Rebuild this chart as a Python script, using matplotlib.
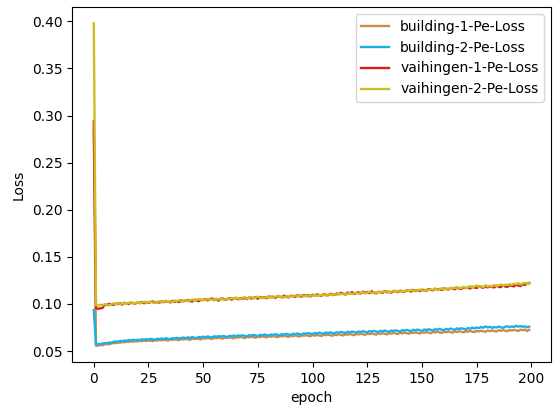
import matplotlib
matplotlib.use("Agg")
import matplotlib.pyplot as plt
import numpy as np

labels = ["building-1-Pe-Loss", "building-2-Pe-Loss", "vaihingen-1-Pe-Loss", "vaihingen-2-Pe-Loss"]
colors = ["#CD8A4C", "#1CB0E4", "#D81E1E", "#CCBE22"]

building_1 = [
    0.2850,
    0.0555, 0.0559, 0.0564, 0.0561, 0.0570, 0.0574, 0.0571, 0.0580, 0.0586, 0.0583,
    0.0591, 0.0588, 0.0596, 0.0593, 0.0600, 0.0596, 0.0603, 0.0599, 0.0606, 0.0601,
    0.0609, 0.0604, 0.0611, 0.0606, 0.0614, 0.0609, 0.0605, 0.0616, 0.0611, 0.0619,
    0.0613, 0.0621, 0.0616, 0.0611, 0.0624, 0.0618, 0.0626, 0.0620, 0.0615, 0.0628,
    0.0622, 0.0630, 0.0624, 0.0619, 0.0632, 0.0627, 0.0634, 0.0628, 0.0623, 0.0637,
    0.0631, 0.0639, 0.0633, 0.0628, 0.0641, 0.0635, 0.0643, 0.0637, 0.0632, 0.0644,
    0.0638, 0.0646, 0.0640, 0.0635, 0.0648, 0.0642, 0.0650, 0.0643, 0.0637, 0.0651,
    0.0645, 0.0653, 0.0647, 0.0641, 0.0655, 0.0648, 0.0657, 0.0650, 0.0644, 0.0658,
    0.0651, 0.0660, 0.0653, 0.0647, 0.0661, 0.0655, 0.0663, 0.0656, 0.0650, 0.0664,
    0.0657, 0.0666, 0.0659, 0.0653, 0.0667, 0.0661, 0.0669, 0.0662, 0.0656, 0.0670,
    0.0663, 0.0672, 0.0665, 0.0659, 0.0673, 0.0667, 0.0675, 0.0668, 0.0662, 0.0676,
    0.0669, 0.0678, 0.0671, 0.0665, 0.0679, 0.0673, 0.0681, 0.0674, 0.0668, 0.0682,
    0.0675, 0.0684, 0.0677, 0.0671, 0.0686, 0.0679, 0.0687, 0.0680, 0.0674, 0.0688,
    0.0681, 0.0690, 0.0683, 0.0677, 0.0691, 0.0685, 0.0693, 0.0686, 0.0680, 0.0694,
    0.0687, 0.0696, 0.0689, 0.0683, 0.0697, 0.0691, 0.0699, 0.0692, 0.0686, 0.0700,
    0.0693, 0.0702, 0.0695, 0.0689, 0.0703, 0.0697, 0.0705, 0.0698, 0.0692, 0.0706,
    0.0699, 0.0707, 0.0701, 0.0695, 0.0709, 0.0702, 0.0711, 0.0704, 0.0698, 0.0712,
    0.0705, 0.0713, 0.0707, 0.0701, 0.0715, 0.0708, 0.0716, 0.0710, 0.0704, 0.0718,
    0.0711, 0.0719, 0.0713, 0.0707, 0.0721, 0.0714, 0.0722, 0.0716, 0.0710, 0.0724,
    0.0717, 0.0725, 0.0719, 0.0713, 0.0727, 0.0720, 0.0728, 0.0712, 0.0726,
]

building_2 = [
    0.0935,
    0.0568, 0.0574, 0.0571, 0.0580, 0.0585, 0.0582, 0.0591, 0.0589, 0.0597, 0.0602,
    0.0598, 0.0607, 0.0603, 0.0612, 0.0608, 0.0616, 0.0611, 0.0620, 0.0614, 0.0621,
    0.0616, 0.0625, 0.0619, 0.0627, 0.0621, 0.0630, 0.0624, 0.0620, 0.0631, 0.0626,
    0.0634, 0.0627, 0.0637, 0.0629, 0.0625, 0.0638, 0.0632, 0.0641, 0.0634, 0.0639,
    0.0643, 0.0636, 0.0646, 0.0639, 0.0648, 0.0641, 0.0637, 0.0650, 0.0644, 0.0653,
    0.0646, 0.0655, 0.0649, 0.0644, 0.0657, 0.0651, 0.0659, 0.0652, 0.0660, 0.0654,
    0.0649, 0.0661, 0.0656, 0.0664, 0.0657, 0.0666, 0.0659, 0.0668, 0.0661, 0.0656,
    0.0669, 0.0663, 0.0672, 0.0664, 0.0659, 0.0673, 0.0667, 0.0675, 0.0669, 0.0663,
    0.0676, 0.0670, 0.0679, 0.0672, 0.0667, 0.0680, 0.0674, 0.0683, 0.0676, 0.0671,
    0.0684, 0.0678, 0.0687, 0.0680, 0.0675, 0.0689, 0.0682, 0.0691, 0.0684, 0.0679,
    0.0692, 0.0686, 0.0695, 0.0688, 0.0683, 0.0697, 0.0690, 0.0699, 0.0692, 0.0687,
    0.0700, 0.0694, 0.0703, 0.0696, 0.0691, 0.0705, 0.0698, 0.0707, 0.0700, 0.0695,
    0.0708, 0.0701, 0.0711, 0.0704, 0.0698, 0.0712, 0.0705, 0.0714, 0.0707, 0.0701,
    0.0715, 0.0708, 0.0718, 0.0710, 0.0704, 0.0719, 0.0712, 0.0721, 0.0713, 0.0708,
    0.0722, 0.0715, 0.0725, 0.0717, 0.0711, 0.0726, 0.0719, 0.0728, 0.0720, 0.0714,
    0.0729, 0.0722, 0.0732, 0.0724, 0.0718, 0.0733, 0.0726, 0.0736, 0.0727, 0.0721,
    0.0736, 0.0729, 0.0739, 0.0731, 0.0725, 0.0741, 0.0733, 0.0743, 0.0735, 0.0729,
    0.0744, 0.0737, 0.0748, 0.0740, 0.0751, 0.0743, 0.0756, 0.0747, 0.0762, 0.0750,
    0.0758, 0.0746, 0.0755, 0.0749, 0.0760, 0.0752, 0.0746, 0.0758, 0.0763, 0.0754,
    0.0761, 0.0756, 0.0767, 0.0759, 0.0765, 0.0757, 0.0762, 0.0753, 0.0760,
]

vaihingen_1 = [
    0.2940,
    0.0952, 0.0949, 0.0953, 0.0958,
    0.0993, 0.0988, 0.1001, 0.0994, 0.0990, 0.1004,
    0.0998, 0.1007, 0.0993, 0.1012, 0.1005, 0.0999, 0.1014, 0.1008, 0.1003, 0.1016,
    0.1010, 0.1021, 0.1007, 0.1017, 0.1012, 0.1020, 0.1026, 0.1011, 0.1019, 0.1015,
    0.1027, 0.1019, 0.1031, 0.1024, 0.1016, 0.1033, 0.1022, 0.1030, 0.1020, 0.1037,
    0.1029, 0.1036, 0.1041, 0.1031, 0.1026, 0.1045, 0.1037, 0.1029, 0.1046, 0.1040,
    0.1051, 0.1038, 0.1047, 0.1059, 0.1044, 0.1052, 0.1035, 0.1054, 0.1058, 0.1042,
    0.1051, 0.1060, 0.1046, 0.1057, 0.1063, 0.1049, 0.1061, 0.1055, 0.1064, 0.1052,
    0.1068, 0.1057, 0.1065, 0.1071, 0.1055, 0.1074, 0.1066, 0.1070, 0.1062, 0.1079,
    0.1071, 0.1077, 0.1064, 0.1082, 0.1076, 0.1070, 0.1088, 0.1079, 0.1069, 0.1086,
    0.1084, 0.1075, 0.1091, 0.1083, 0.1078, 0.1095, 0.1086, 0.1092, 0.1080, 0.1097,
    0.1090, 0.1101, 0.1094, 0.1086, 0.1104, 0.1098, 0.1091, 0.1108, 0.1100, 0.1096,
    0.1110, 0.1104, 0.1118, 0.1107, 0.1099, 0.1121, 0.1112, 0.1126, 0.1105, 0.1117,
    0.1124, 0.1110, 0.1131, 0.1119, 0.1127, 0.1115, 0.1134, 0.1121, 0.1112, 0.1129,
    0.1126, 0.1118, 0.1135, 0.1123, 0.1130, 0.1120, 0.1138, 0.1132, 0.1125, 0.1140,
    0.1134, 0.1128, 0.1146, 0.1139, 0.1131, 0.1148, 0.1137, 0.1144, 0.1136, 0.1150,
    0.1147, 0.1141, 0.1157, 0.1150, 0.1144, 0.1161, 0.1152, 0.1159, 0.1148, 0.1164,
    0.1160, 0.1153, 0.1169, 0.1162, 0.1156, 0.1173, 0.1165, 0.1159, 0.1176, 0.1168,
    0.1174, 0.1163, 0.1181, 0.1175, 0.1169, 0.1187, 0.1178, 0.1172, 0.1184, 0.1176,
    0.1186, 0.1180, 0.1175, 0.1193, 0.1183, 0.1178, 0.1197, 0.1185, 0.1180, 0.1199,
    0.1192, 0.1186, 0.1204, 0.1195, 0.1189, 0.1210, 0.1201, 0.1215, 0.1221,
]

vaihingen_2 = [
    0.3980,
    0.0987, 0.0983, 0.0992, 0.0986, 0.0995, 0.0991, 0.0984, 0.0998, 0.1006, 0.0995,
    0.1009, 0.0996, 0.1003, 0.1014, 0.1000, 0.1011, 0.1017, 0.1002, 0.1008, 0.1019,
    0.1006, 0.1015, 0.1024, 0.1010, 0.1018, 0.1027, 0.1013, 0.1009, 0.1023, 0.1030,
    0.1016, 0.1026, 0.1035, 0.1021, 0.1029, 0.1018, 0.1036, 0.1027, 0.1041, 0.1025,
    0.1032, 0.1043, 0.1028, 0.1039, 0.1048, 0.1033, 0.1044, 0.1052, 0.1036, 0.1047,
    0.1040, 0.1055, 0.1043, 0.1050, 0.1038, 0.1057, 0.1046, 0.1061, 0.1049, 0.1044,
    0.1058, 0.1049, 0.1064, 0.1053, 0.1068, 0.1056, 0.1050, 0.1066, 0.1071, 0.1057,
    0.1062, 0.1074, 0.1059, 0.1069, 0.1078, 0.1063, 0.1071, 0.1060, 0.1077, 0.1068,
    0.1080, 0.1066, 0.1075, 0.1087, 0.1072, 0.1079, 0.1068, 0.1085, 0.1074, 0.1083,
    0.1077, 0.1090, 0.1079, 0.1086, 0.1094, 0.1081, 0.1089, 0.1076, 0.1093, 0.1087,
    0.1096, 0.1084, 0.1099, 0.1091, 0.1103, 0.1088, 0.1097, 0.1106, 0.1092, 0.1102,
    0.1097, 0.1109, 0.1101, 0.1114, 0.1098, 0.1107, 0.1117, 0.1104, 0.1111, 0.1120,
    0.1108, 0.1116, 0.1125, 0.1111, 0.1121, 0.1130, 0.1114, 0.1124, 0.1118, 0.1128,
    0.1121, 0.1133, 0.1126, 0.1137, 0.1122, 0.1131, 0.1140, 0.1127, 0.1135, 0.1129,
    0.1141, 0.1132, 0.1144, 0.1137, 0.1150, 0.1135, 0.1146, 0.1140, 0.1153, 0.1143,
    0.1139, 0.1152, 0.1145, 0.1158, 0.1149, 0.1162, 0.1147, 0.1156, 0.1166, 0.1153,
    0.1165, 0.1158, 0.1170, 0.1163, 0.1176, 0.1161, 0.1172, 0.1168, 0.1181, 0.1170,
    0.1177, 0.1190, 0.1173, 0.1186, 0.1195, 0.1180, 0.1188, 0.1179, 0.1198, 0.1185,
    0.1192, 0.1186, 0.1201, 0.1189, 0.1196, 0.1208, 0.1193, 0.1204, 0.1199, 0.1210,
    0.1203, 0.1214, 0.1209, 0.1219, 0.1206, 0.1217, 0.1224, 0.1213, 0.1226,
]

series = [building_1, building_2, vaihingen_1, vaihingen_2]

fig = plt.figure(figsize=(5.54, 4.07), dpi=100)
ax = fig.add_axes([0.130, 0.1106, 0.8646, 0.872])
for vals, lab, col in zip(series, labels, colors):
    ax.plot(np.arange(len(vals)), vals, color=col, lw=1.7, label=lab)
ax.set_xlabel("epoch")
ax.set_ylabel("Loss")
ax.legend(loc="upper right")
fig.savefig("out.png", dpi=100)
